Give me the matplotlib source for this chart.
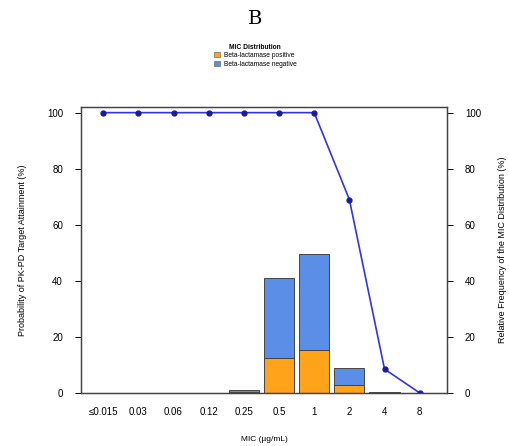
import numpy as np
import matplotlib
matplotlib.use("Agg")
import matplotlib.pyplot as plt
from matplotlib.patches import Patch

plt.rcParams["font.family"] = ["Liberation Sans", "DejaVu Sans"]

# MIC categories
mic_labels = ["\u22640.015", "0.03", "0.06", "0.12", "0.25", "0.5", "1", "2", "4", "8"]

# relative frequency of MIC distribution (%)
freq_positive = [0, 0, 0, 0, 0.4, 12.5, 15.4, 3.0, 0, 0]
freq_negative = [0, 0, 0, 0, 0.6, 28.5, 34.0, 6.0, 0.3, 0]

# probability of PK-PD target attainment (%)
pta = [100, 100, 100, 100, 100, 100, 100, 69, 8.5, 0]

orange = "#ffa31a"
blue = "#5b8ee6"

fig = plt.figure(figsize=(5.1, 4.46), dpi=100)
ax = fig.add_axes([0.159, 0.119, 0.717, 0.641])
ax2 = ax.twinx()

x = np.arange(len(mic_labels))
ax2.bar(x, freq_positive, width=0.86, color=orange, edgecolor="#444444", linewidth=0.7)
ax2.bar(x, freq_negative, width=0.86, bottom=freq_positive, color=blue,
        edgecolor="#444444", linewidth=0.7)

ax.set_zorder(ax2.get_zorder() + 1)
ax.patch.set_visible(False)
ax.plot(x, pta, color="#3333ee", linewidth=1.2, marker="o", markersize=3.5,
        markerfacecolor="#1a1aa0", markeredgecolor="#1a1aa0")

for a in (ax, ax2):
    a.set_ylim(0, 102)
    a.set_yticks([0, 20, 40, 60, 80, 100])
    a.tick_params(axis="y", labelsize=7, length=4, width=0.7, pad=9)
    for s in a.spines.values():
        s.set_linewidth(0.9)
        s.set_color("#444444")
ax.set_xlim(-0.63, 9.77)
ax.set_xticks(x)
ax.set_xticklabels(mic_labels, fontsize=7)
ax.tick_params(axis="x", length=0, pad=10)

ax.set_ylabel("Probability of PK-PD Target Attainment (%)", fontsize=6.5, labelpad=14)
ax2.set_ylabel("Relative Frequency of the MIC Distribution (%)", fontsize=6.5, labelpad=12)
ax.set_xlabel("MIC (\u00b5g/mL)", fontsize=6, labelpad=14)

fig.text(0.5, 0.958, "B", ha="center", va="center", fontsize=14, family="DejaVu Serif")

handles = [Patch(facecolor=orange, edgecolor="#555555", linewidth=0.4),
           Patch(facecolor=blue, edgecolor="#555555", linewidth=0.4)]
leg = fig.legend(handles, ["Beta-lactamase positive", "Beta-lactamase negative"],
                 loc="center", bbox_to_anchor=(0.5, 0.875), frameon=False, fontsize=4.8,
                 title="MIC Distribution", title_fontproperties={"size": 4.8, "weight": "bold"},
                 handlelength=1.0, handleheight=0.8, handletextpad=0.5, labelspacing=0.2)

fig.savefig("out.png", dpi=100)
